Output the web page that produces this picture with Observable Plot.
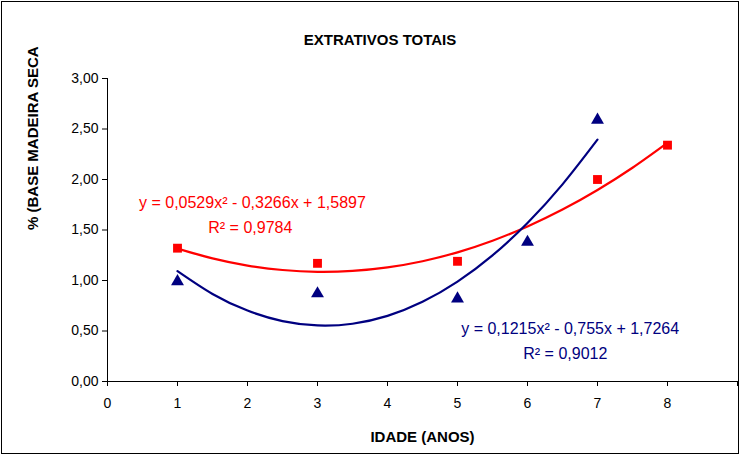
<!DOCTYPE html>
<html><head><meta charset="utf-8">
<script src="https://cdn.jsdelivr.net/npm/d3@7"></script>
<script src="https://cdn.jsdelivr.net/npm/@observablehq/plot@0.6"></script>
<style>
body{margin:0;background:#fff;font-family:"Liberation Sans",Arial,sans-serif}
#wrap{position:relative;width:740px;height:455px}
#box{position:absolute;left:1px;top:1px;width:736px;height:451px;border:1px solid #000;pointer-events:none}
#title{position:absolute;top:31px;left:0;width:760px;text-align:center;font-weight:bold;font-size:15px}
</style></head>
<body><div id="wrap"><div id="title">EXTRATIVOS TOTAIS</div><div id="chart"></div><div id="box"></div></div>
<script>
// pontos medidos
const idadeRed = [1, 3, 5, 7, 8]
const valRed = [1.32, 1.17, 1.19, 2.00, 2.34]
const idadeBlue = [1, 3, 5, 6, 7]
const valBlue = [0.99, 0.87, 0.82, 1.38, 2.59]
// linhas de tendência
const xCurveRed = [1,1.5,2,2.5,3,3.5,4,4.5,5,5.5,6,6.5,7,7.5,8]
const yCurveRed = [1.316,1.219,1.148,1.104,1.086,1.095,1.130,1.191,1.279,1.394,1.535,1.702,1.896,2.116,2.363]
const xCurveBlue = [1,1.5,2,2.5,3,3.5,4,4.5,5,5.5,6,6.5,7]
const yCurveBlue = [1.093,0.867,0.702,0.598,0.555,0.572,0.650,0.789,0.989,1.249,1.570,1.952,2.395]
const yTicks = [0,0.5,1,1.5,2,2.5,3]
const xTicks = [0,1,2,3,4,5,6,7,8,9]

const fmt = d => d.toFixed(2).replace('.', ',')
const pts = (xs, ys) => xs.map((x, i) => ({x, y: ys[i]}))

const chart = Plot.plot({
  width: 740, height: 455,
  marginLeft: 107, marginTop: 78, marginRight: 3, marginBottom: 74,
  style: {fontFamily: '"Liberation Sans", Arial, sans-serif', fontSize: '14px', color: '#000'},
  x: {domain: [0, 9], ticks: xTicks, tickFormat: d => d === 9 ? '' : d, tickSize: 5, tickPadding: 12, label: null},
  y: {domain: [0, 3], ticks: yTicks, tickFormat: fmt, tickSize: 5, tickPadding: 4, label: null},
  marks: [
    Plot.ruleX([0]),
    Plot.ruleY([0]),
    Plot.line(pts(xCurveRed, yCurveRed), {x: 'x', y: 'y', stroke: '#ff0000', strokeWidth: 2.2, curve: 'natural'}),
    Plot.line(pts(xCurveBlue, yCurveBlue), {x: 'x', y: 'y', stroke: '#000080', strokeWidth: 2.2, curve: 'natural'}),
    Plot.dot(pts(idadeRed, valRed), {x: 'x', y: 'y', symbol: 'square', r: 5, fill: '#ff0000'}),
    Plot.dot(pts(idadeBlue, valBlue), {x: 'x', y: 'y', symbol: 'triangle', r: 4.8, fill: '#000080'}),
    Plot.text(['y = 0,0529x² - 0,3266x + 1,5897'], {x: 2.07, y: 1.77, fill: '#ff0000', fontSize: 16}),
    Plot.text(['R² = 0,9784'], {x: 2.04, y: 1.52, fill: '#ff0000', fontSize: 16}),
    Plot.text(['y = 0,1215x² - 0,755x + 1,7264'], {x: 6.61, y: 0.52, fill: '#000080', fontSize: 16}),
    Plot.text(['R² = 0,9012'], {x: 6.54, y: 0.27, fill: '#000080', fontSize: 16}),
    Plot.text(['IDADE (ANOS)'], {frameAnchor: 'bottom', dy: 60, fontWeight: 'bold', fontSize: 15}),
    Plot.text(['% (BASE MADEIRA SECA'], {frameAnchor: 'left', dx: -74, rotate: -90, fontWeight: 'bold', fontSize: 15})
  ]
})
d3.select('#chart').append(() => chart)
</script></body></html>
